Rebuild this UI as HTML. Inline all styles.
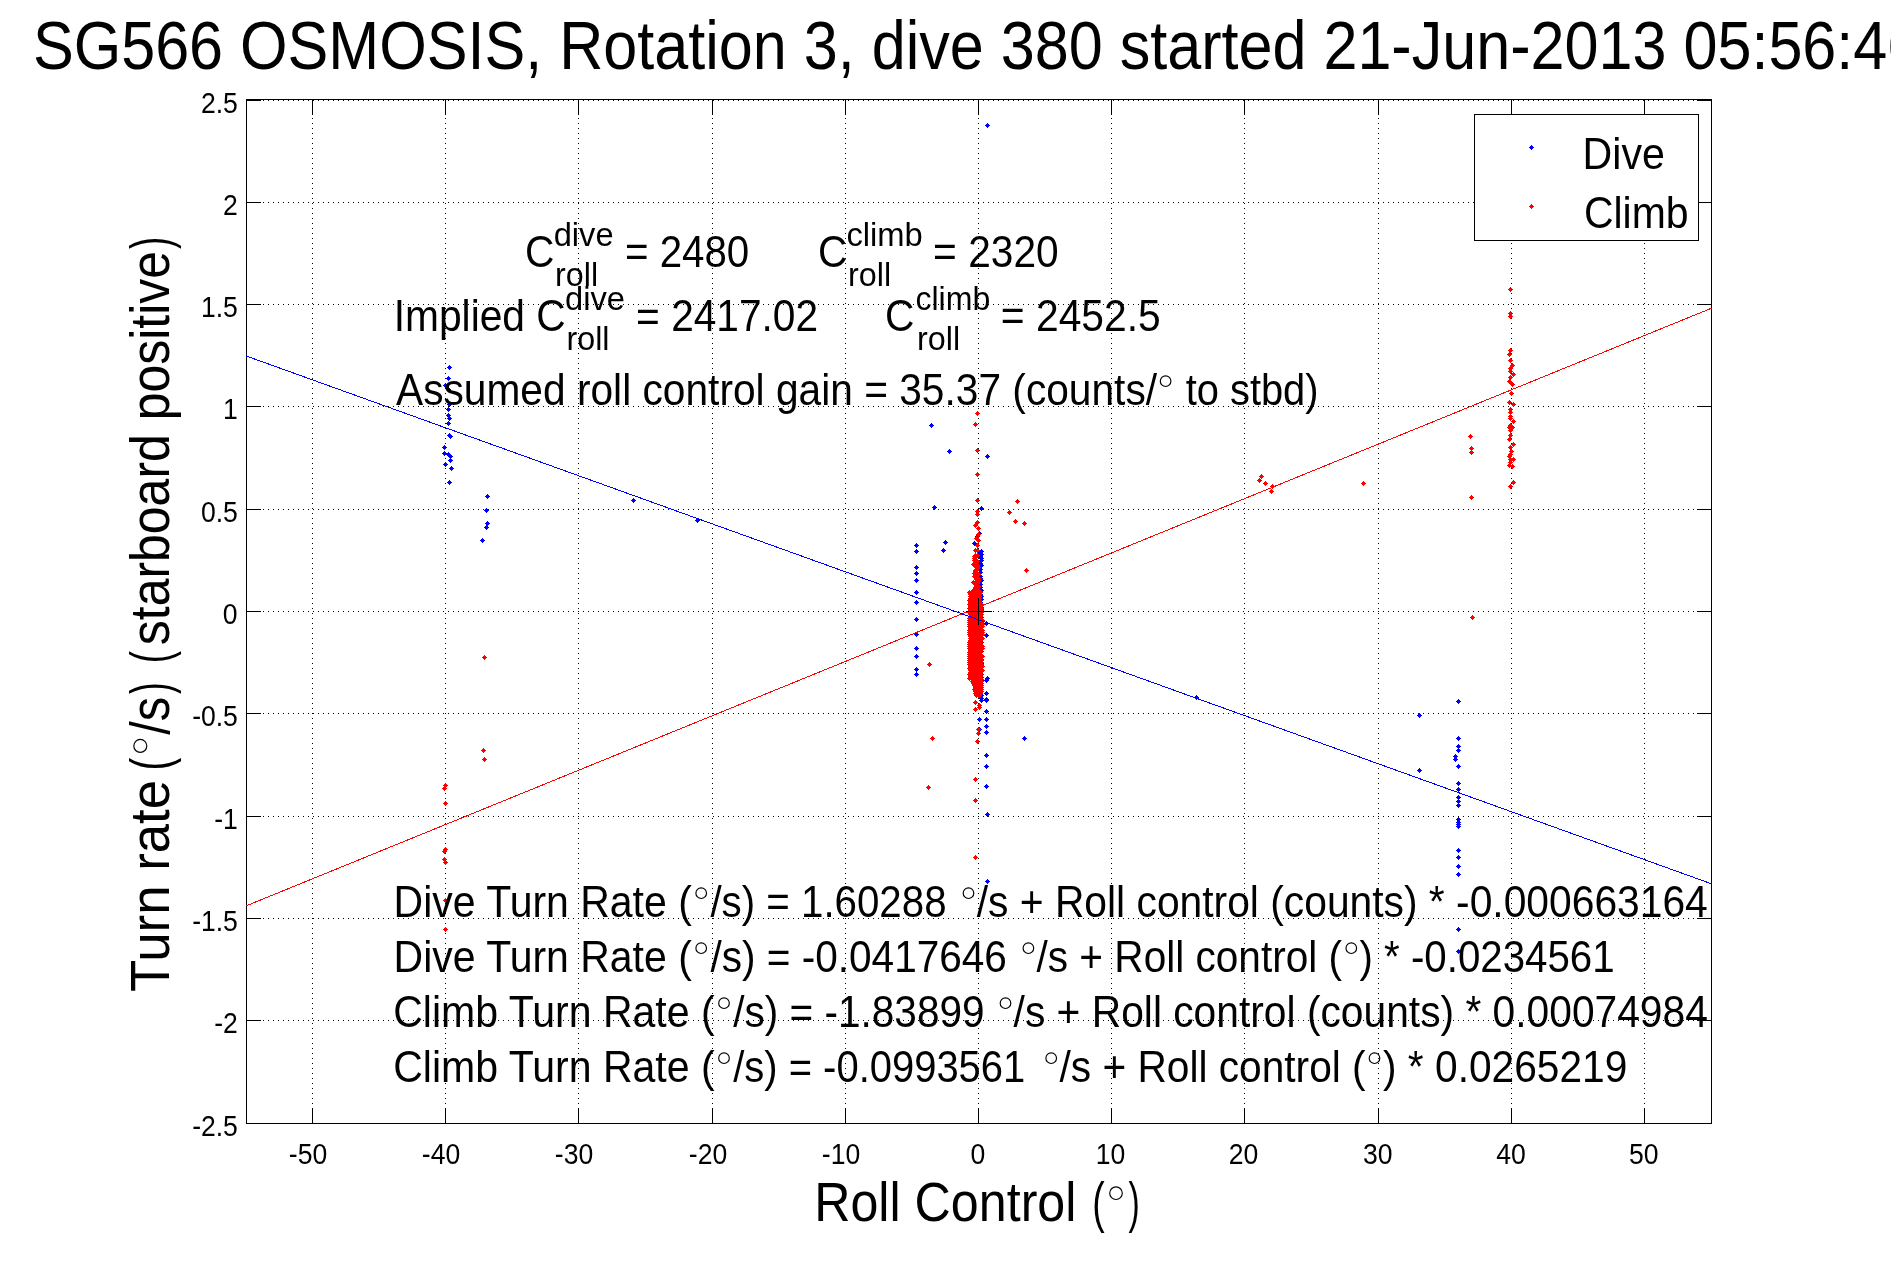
<!DOCTYPE html>
<html><head><meta charset="utf-8"><title>plot</title>
<style>
html,body{margin:0;padding:0;background:#fff;overflow:hidden}
svg{display:block}
text{font-family:"Liberation Sans",sans-serif;fill:#000;white-space:pre}
</style></head><body>
<svg width="1891" height="1262" viewBox="0 0 1891 1262">
<rect width="1891" height="1262" fill="#fff"/>
<g stroke="#000" stroke-width="1" stroke-dasharray="1 4" shape-rendering="crispEdges">
<line x1="312.5" y1="103" x2="312.5" y2="1123"/>
<line x1="445.5" y1="103" x2="445.5" y2="1123"/>
<line x1="578.5" y1="103" x2="578.5" y2="1123"/>
<line x1="712.5" y1="103" x2="712.5" y2="1123"/>
<line x1="845.5" y1="103" x2="845.5" y2="1123"/>
<line x1="978.5" y1="103" x2="978.5" y2="1123"/>
<line x1="1111.5" y1="103" x2="1111.5" y2="1123"/>
<line x1="1244.5" y1="103" x2="1244.5" y2="1123"/>
<line x1="1378.5" y1="103" x2="1378.5" y2="1123"/>
<line x1="1511.5" y1="103" x2="1511.5" y2="1123"/>
<line x1="1644.5" y1="103" x2="1644.5" y2="1123"/>
<line x1="248" y1="100.5" x2="1711" y2="100.5"/>
<line x1="248" y1="202.5" x2="1711" y2="202.5"/>
<line x1="248" y1="304.5" x2="1711" y2="304.5"/>
<line x1="248" y1="406.5" x2="1711" y2="406.5"/>
<line x1="248" y1="509.5" x2="1711" y2="509.5"/>
<line x1="248" y1="611.5" x2="1711" y2="611.5"/>
<line x1="248" y1="713.5" x2="1711" y2="713.5"/>
<line x1="248" y1="816.5" x2="1711" y2="816.5"/>
<line x1="248" y1="918.5" x2="1711" y2="918.5"/>
<line x1="248" y1="1020.5" x2="1711" y2="1020.5"/>
<line x1="248" y1="1123.5" x2="1711" y2="1123.5"/>
</g>
<g stroke="#000" stroke-width="1" fill="none" shape-rendering="crispEdges">
<path d="M246.5 99.5H1711.5V1123.5H246.5Z"/>
<path d="M312.5 1123V1108M312.5 100V115M445.5 1123V1108M445.5 100V115M578.5 1123V1108M578.5 100V115M712.5 1123V1108M712.5 100V115M845.5 1123V1108M845.5 100V115M978.5 1123V1108M978.5 100V115M1111.5 1123V1108M1111.5 100V115M1244.5 1123V1108M1244.5 100V115M1378.5 1123V1108M1378.5 100V115M1511.5 1123V1108M1511.5 100V115M1644.5 1123V1108M1644.5 100V115M246 100.5H261M1712 100.5H1697M246 202.5H261M1712 202.5H1697M246 304.5H261M1712 304.5H1697M246 406.5H261M1712 406.5H1697M246 509.5H261M1712 509.5H1697M246 611.5H261M1712 611.5H1697M246 713.5H261M1712 713.5H1697M246 816.5H261M1712 816.5H1697M246 918.5H261M1712 918.5H1697M246 1020.5H261M1712 1020.5H1697M246 1123.5H261M1712 1123.5H1697"/>
</g>
<g shape-rendering="crispEdges">
<path fill="#00f" d="M449 365h1v1h1v1h1v1h-1v1h-1v1h-1v-1h-1v-1h-1v-1h1v-1h1zM448 376h1v1h1v1h1v1h-1v1h-1v1h-1v-1h-1v-1h-1v-1h1v-1h1zM448 387h1v1h1v1h1v1h-1v1h-1v1h-1v-1h-1v-1h-1v-1h1v-1h1zM445 383h1v1h1v1h1v1h-1v1h-1v1h-1v-1h-1v-1h-1v-1h1v-1h1zM449 402h1v1h1v1h1v1h-1v1h-1v1h-1v-1h-1v-1h-1v-1h1v-1h1zM448 407h1v1h1v1h1v1h-1v1h-1v1h-1v-1h-1v-1h-1v-1h1v-1h1zM448 413h1v1h1v1h1v1h-1v1h-1v1h-1v-1h-1v-1h-1v-1h1v-1h1zM449 416h1v1h1v1h1v1h-1v1h-1v1h-1v-1h-1v-1h-1v-1h1v-1h1zM448 421h1v1h1v1h1v1h-1v1h-1v1h-1v-1h-1v-1h-1v-1h1v-1h1zM449 433h1v1h1v1h1v1h-1v1h-1v1h-1v-1h-1v-1h-1v-1h1v-1h1zM450 434h1v1h1v1h1v1h-1v1h-1v1h-1v-1h-1v-1h-1v-1h1v-1h1zM444 445h1v1h1v1h1v1h-1v1h-1v1h-1v-1h-1v-1h-1v-1h1v-1h1zM444 451h1v1h1v1h1v1h-1v1h-1v1h-1v-1h-1v-1h-1v-1h1v-1h1zM448 452h1v1h1v1h1v1h-1v1h-1v1h-1v-1h-1v-1h-1v-1h1v-1h1zM450 454h1v1h1v1h1v1h-1v1h-1v1h-1v-1h-1v-1h-1v-1h1v-1h1zM450 458h1v1h1v1h1v1h-1v1h-1v1h-1v-1h-1v-1h-1v-1h1v-1h1zM445 462h1v1h1v1h1v1h-1v1h-1v1h-1v-1h-1v-1h-1v-1h1v-1h1zM451 466h1v1h1v1h1v1h-1v1h-1v1h-1v-1h-1v-1h-1v-1h1v-1h1zM449 480h1v1h1v1h1v1h-1v1h-1v1h-1v-1h-1v-1h-1v-1h1v-1h1zM487 494h1v1h1v1h1v1h-1v1h-1v1h-1v-1h-1v-1h-1v-1h1v-1h1zM486 508h1v1h1v1h1v1h-1v1h-1v1h-1v-1h-1v-1h-1v-1h1v-1h1zM487 521h1v1h1v1h1v1h-1v1h-1v1h-1v-1h-1v-1h-1v-1h1v-1h1zM486 525h1v1h1v1h1v1h-1v1h-1v1h-1v-1h-1v-1h-1v-1h1v-1h1zM482 538h1v1h1v1h1v1h-1v1h-1v1h-1v-1h-1v-1h-1v-1h1v-1h1zM633 498h1v1h1v1h1v1h-1v1h-1v1h-1v-1h-1v-1h-1v-1h1v-1h1zM697 518h1v1h1v1h1v1h-1v1h-1v1h-1v-1h-1v-1h-1v-1h1v-1h1zM987 123h1v1h1v1h1v1h-1v1h-1v1h-1v-1h-1v-1h-1v-1h1v-1h1zM931 423h1v1h1v1h1v1h-1v1h-1v1h-1v-1h-1v-1h-1v-1h1v-1h1zM949 449h1v1h1v1h1v1h-1v1h-1v1h-1v-1h-1v-1h-1v-1h1v-1h1zM987 454h1v1h1v1h1v1h-1v1h-1v1h-1v-1h-1v-1h-1v-1h1v-1h1zM934 505h1v1h1v1h1v1h-1v1h-1v1h-1v-1h-1v-1h-1v-1h1v-1h1zM981 506h1v1h1v1h1v1h-1v1h-1v1h-1v-1h-1v-1h-1v-1h1v-1h1zM945 540h1v1h1v1h1v1h-1v1h-1v1h-1v-1h-1v-1h-1v-1h1v-1h1zM916 543h1v1h1v1h1v1h-1v1h-1v1h-1v-1h-1v-1h-1v-1h1v-1h1zM916 549h1v1h1v1h1v1h-1v1h-1v1h-1v-1h-1v-1h-1v-1h1v-1h1zM943 548h1v1h1v1h1v1h-1v1h-1v1h-1v-1h-1v-1h-1v-1h1v-1h1zM974 541h1v1h1v1h1v1h-1v1h-1v1h-1v-1h-1v-1h-1v-1h1v-1h1zM979 531h1v1h1v1h1v1h-1v1h-1v1h-1v-1h-1v-1h-1v-1h1v-1h1zM977 534h1v1h1v1h1v1h-1v1h-1v1h-1v-1h-1v-1h-1v-1h1v-1h1zM979 550h1v1h1v1h1v1h-1v1h-1v1h-1v-1h-1v-1h-1v-1h1v-1h1zM980 555h1v1h1v1h1v1h-1v1h-1v1h-1v-1h-1v-1h-1v-1h1v-1h1zM916 543h1v1h1v1h1v1h-1v1h-1v1h-1v-1h-1v-1h-1v-1h1v-1h1zM916 549h1v1h1v1h1v1h-1v1h-1v1h-1v-1h-1v-1h-1v-1h1v-1h1zM916 565h1v1h1v1h1v1h-1v1h-1v1h-1v-1h-1v-1h-1v-1h1v-1h1zM916 571h1v1h1v1h1v1h-1v1h-1v1h-1v-1h-1v-1h-1v-1h1v-1h1zM916 578h1v1h1v1h1v1h-1v1h-1v1h-1v-1h-1v-1h-1v-1h1v-1h1zM916 590h1v1h1v1h1v1h-1v1h-1v1h-1v-1h-1v-1h-1v-1h1v-1h1zM916 600h1v1h1v1h1v1h-1v1h-1v1h-1v-1h-1v-1h-1v-1h1v-1h1zM916 617h1v1h1v1h1v1h-1v1h-1v1h-1v-1h-1v-1h-1v-1h1v-1h1zM916 632h1v1h1v1h1v1h-1v1h-1v1h-1v-1h-1v-1h-1v-1h1v-1h1zM916 646h1v1h1v1h1v1h-1v1h-1v1h-1v-1h-1v-1h-1v-1h1v-1h1zM916 654h1v1h1v1h1v1h-1v1h-1v1h-1v-1h-1v-1h-1v-1h1v-1h1zM916 667h1v1h1v1h1v1h-1v1h-1v1h-1v-1h-1v-1h-1v-1h1v-1h1zM916 672h1v1h1v1h1v1h-1v1h-1v1h-1v-1h-1v-1h-1v-1h1v-1h1zM945 540h1v1h1v1h1v1h-1v1h-1v1h-1v-1h-1v-1h-1v-1h1v-1h1zM943 548h1v1h1v1h1v1h-1v1h-1v1h-1v-1h-1v-1h-1v-1h1v-1h1zM974 541h1v1h1v1h1v1h-1v1h-1v1h-1v-1h-1v-1h-1v-1h1v-1h1zM986 621h1v1h1v1h1v1h-1v1h-1v1h-1v-1h-1v-1h-1v-1h1v-1h1zM986 633h1v1h1v1h1v1h-1v1h-1v1h-1v-1h-1v-1h-1v-1h1v-1h1zM987 676h1v1h1v1h1v1h-1v1h-1v1h-1v-1h-1v-1h-1v-1h1v-1h1zM986 678h1v1h1v1h1v1h-1v1h-1v1h-1v-1h-1v-1h-1v-1h1v-1h1zM986 691h1v1h1v1h1v1h-1v1h-1v1h-1v-1h-1v-1h-1v-1h1v-1h1zM981 693h1v1h1v1h1v1h-1v1h-1v1h-1v-1h-1v-1h-1v-1h1v-1h1zM986 697h1v1h1v1h1v1h-1v1h-1v1h-1v-1h-1v-1h-1v-1h1v-1h1zM981 696h1v1h1v1h1v1h-1v1h-1v1h-1v-1h-1v-1h-1v-1h1v-1h1zM986 691h1v1h1v1h1v1h-1v1h-1v1h-1v-1h-1v-1h-1v-1h1v-1h1zM981 693h1v1h1v1h1v1h-1v1h-1v1h-1v-1h-1v-1h-1v-1h1v-1h1zM981 698h1v1h1v1h1v1h-1v1h-1v1h-1v-1h-1v-1h-1v-1h1v-1h1zM986 698h1v1h1v1h1v1h-1v1h-1v1h-1v-1h-1v-1h-1v-1h1v-1h1zM986 709h1v1h1v1h1v1h-1v1h-1v1h-1v-1h-1v-1h-1v-1h1v-1h1zM979 717h1v1h1v1h1v1h-1v1h-1v1h-1v-1h-1v-1h-1v-1h1v-1h1zM986 717h1v1h1v1h1v1h-1v1h-1v1h-1v-1h-1v-1h-1v-1h1v-1h1zM986 724h1v1h1v1h1v1h-1v1h-1v1h-1v-1h-1v-1h-1v-1h1v-1h1zM979 727h1v1h1v1h1v1h-1v1h-1v1h-1v-1h-1v-1h-1v-1h1v-1h1zM986 730h1v1h1v1h1v1h-1v1h-1v1h-1v-1h-1v-1h-1v-1h1v-1h1zM1024 736h1v1h1v1h1v1h-1v1h-1v1h-1v-1h-1v-1h-1v-1h1v-1h1zM986 753h1v1h1v1h1v1h-1v1h-1v1h-1v-1h-1v-1h-1v-1h1v-1h1zM986 764h1v1h1v1h1v1h-1v1h-1v1h-1v-1h-1v-1h-1v-1h1v-1h1zM986 784h1v1h1v1h1v1h-1v1h-1v1h-1v-1h-1v-1h-1v-1h1v-1h1zM987 812h1v1h1v1h1v1h-1v1h-1v1h-1v-1h-1v-1h-1v-1h1v-1h1zM987 879h1v1h1v1h1v1h-1v1h-1v1h-1v-1h-1v-1h-1v-1h1v-1h1zM1196 695h1v1h1v1h1v1h-1v1h-1v1h-1v-1h-1v-1h-1v-1h1v-1h1zM1458 699h1v1h1v1h1v1h-1v1h-1v1h-1v-1h-1v-1h-1v-1h1v-1h1zM1419 713h1v1h1v1h1v1h-1v1h-1v1h-1v-1h-1v-1h-1v-1h1v-1h1zM1419 768h1v1h1v1h1v1h-1v1h-1v1h-1v-1h-1v-1h-1v-1h1v-1h1zM1458 736h1v1h1v1h1v1h-1v1h-1v1h-1v-1h-1v-1h-1v-1h1v-1h1zM1458 744h1v1h1v1h1v1h-1v1h-1v1h-1v-1h-1v-1h-1v-1h1v-1h1zM1458 748h1v1h1v1h1v1h-1v1h-1v1h-1v-1h-1v-1h-1v-1h1v-1h1zM1455 754h1v1h1v1h1v1h-1v1h-1v1h-1v-1h-1v-1h-1v-1h1v-1h1zM1455 757h1v1h1v1h1v1h-1v1h-1v1h-1v-1h-1v-1h-1v-1h1v-1h1zM1458 764h1v1h1v1h1v1h-1v1h-1v1h-1v-1h-1v-1h-1v-1h1v-1h1zM1458 781h1v1h1v1h1v1h-1v1h-1v1h-1v-1h-1v-1h-1v-1h1v-1h1zM1458 787h1v1h1v1h1v1h-1v1h-1v1h-1v-1h-1v-1h-1v-1h1v-1h1zM1458 795h1v1h1v1h1v1h-1v1h-1v1h-1v-1h-1v-1h-1v-1h1v-1h1zM1458 799h1v1h1v1h1v1h-1v1h-1v1h-1v-1h-1v-1h-1v-1h1v-1h1zM1458 803h1v1h1v1h1v1h-1v1h-1v1h-1v-1h-1v-1h-1v-1h1v-1h1zM1458 817h1v1h1v1h1v1h-1v1h-1v1h-1v-1h-1v-1h-1v-1h1v-1h1zM1458 820h1v1h1v1h1v1h-1v1h-1v1h-1v-1h-1v-1h-1v-1h1v-1h1zM1458 822h1v1h1v1h1v1h-1v1h-1v1h-1v-1h-1v-1h-1v-1h1v-1h1zM1458 824h1v1h1v1h1v1h-1v1h-1v1h-1v-1h-1v-1h-1v-1h1v-1h1zM1458 848h1v1h1v1h1v1h-1v1h-1v1h-1v-1h-1v-1h-1v-1h1v-1h1zM1458 855h1v1h1v1h1v1h-1v1h-1v1h-1v-1h-1v-1h-1v-1h1v-1h1zM1458 864h1v1h1v1h1v1h-1v1h-1v1h-1v-1h-1v-1h-1v-1h1v-1h1zM1458 872h1v1h1v1h1v1h-1v1h-1v1h-1v-1h-1v-1h-1v-1h1v-1h1zM1458 927h1v1h1v1h1v1h-1v1h-1v1h-1v-1h-1v-1h-1v-1h1v-1h1zM1458 949h1v1h1v1h1v1h-1v1h-1v1h-1v-1h-1v-1h-1v-1h1v-1h1zM981 549h1v1h1v1h1v1h-1v1h-1v1h-1v-1h-1v-1h-1v-1h1v-1h1zM981 552h1v1h1v1h1v1h-1v1h-1v1h-1v-1h-1v-1h-1v-1h1v-1h1zM980 554h1v1h1v1h1v1h-1v1h-1v1h-1v-1h-1v-1h-1v-1h1v-1h1zM981 556h1v1h1v1h1v1h-1v1h-1v1h-1v-1h-1v-1h-1v-1h1v-1h1zM981 558h1v1h1v1h1v1h-1v1h-1v1h-1v-1h-1v-1h-1v-1h1v-1h1zM980 561h1v1h1v1h1v1h-1v1h-1v1h-1v-1h-1v-1h-1v-1h1v-1h1zM981 563h1v1h1v1h1v1h-1v1h-1v1h-1v-1h-1v-1h-1v-1h1v-1h1zM980 567h1v1h1v1h1v1h-1v1h-1v1h-1v-1h-1v-1h-1v-1h1v-1h1zM980 570h1v1h1v1h1v1h-1v1h-1v1h-1v-1h-1v-1h-1v-1h1v-1h1zM980 574h1v1h1v1h1v1h-1v1h-1v1h-1v-1h-1v-1h-1v-1h1v-1h1zM980 576h1v1h1v1h1v1h-1v1h-1v1h-1v-1h-1v-1h-1v-1h1v-1h1zM981 578h1v1h1v1h1v1h-1v1h-1v1h-1v-1h-1v-1h-1v-1h1v-1h1zM980 582h1v1h1v1h1v1h-1v1h-1v1h-1v-1h-1v-1h-1v-1h1v-1h1zM980 585h1v1h1v1h1v1h-1v1h-1v1h-1v-1h-1v-1h-1v-1h1v-1h1zM981 588h1v1h1v1h1v1h-1v1h-1v1h-1v-1h-1v-1h-1v-1h1v-1h1zM980 592h1v1h1v1h1v1h-1v1h-1v1h-1v-1h-1v-1h-1v-1h1v-1h1zM981 594h1v1h1v1h1v1h-1v1h-1v1h-1v-1h-1v-1h-1v-1h1v-1h1zM981 597h1v1h1v1h1v1h-1v1h-1v1h-1v-1h-1v-1h-1v-1h1v-1h1zM980 600h1v1h1v1h1v1h-1v1h-1v1h-1v-1h-1v-1h-1v-1h1v-1h1zM981 603h1v1h1v1h1v1h-1v1h-1v1h-1v-1h-1v-1h-1v-1h1v-1h1zM981 605h1v1h1v1h1v1h-1v1h-1v1h-1v-1h-1v-1h-1v-1h1v-1h1zM981 602h1v1h1v1h1v1h-1v1h-1v1h-1v-1h-1v-1h-1v-1h1v-1h1zM981 607h1v1h1v1h1v1h-1v1h-1v1h-1v-1h-1v-1h-1v-1h1v-1h1zM981 610h1v1h1v1h1v1h-1v1h-1v1h-1v-1h-1v-1h-1v-1h1v-1h1zM981 615h1v1h1v1h1v1h-1v1h-1v1h-1v-1h-1v-1h-1v-1h1v-1h1zM981 618h1v1h1v1h1v1h-1v1h-1v1h-1v-1h-1v-1h-1v-1h1v-1h1zM981 622h1v1h1v1h1v1h-1v1h-1v1h-1v-1h-1v-1h-1v-1h1v-1h1zM981 627h1v1h1v1h1v1h-1v1h-1v1h-1v-1h-1v-1h-1v-1h1v-1h1zM981 632h1v1h1v1h1v1h-1v1h-1v1h-1v-1h-1v-1h-1v-1h1v-1h1zM981 636h1v1h1v1h1v1h-1v1h-1v1h-1v-1h-1v-1h-1v-1h1v-1h1zM981 640h1v1h1v1h1v1h-1v1h-1v1h-1v-1h-1v-1h-1v-1h1v-1h1zM981 644h1v1h1v1h1v1h-1v1h-1v1h-1v-1h-1v-1h-1v-1h1v-1h1zM981 649h1v1h1v1h1v1h-1v1h-1v1h-1v-1h-1v-1h-1v-1h1v-1h1zM981 653h1v1h1v1h1v1h-1v1h-1v1h-1v-1h-1v-1h-1v-1h1v-1h1zM981 657h1v1h1v1h1v1h-1v1h-1v1h-1v-1h-1v-1h-1v-1h1v-1h1zM981 661h1v1h1v1h1v1h-1v1h-1v1h-1v-1h-1v-1h-1v-1h1v-1h1zM981 664h1v1h1v1h1v1h-1v1h-1v1h-1v-1h-1v-1h-1v-1h1v-1h1zM981 667h1v1h1v1h1v1h-1v1h-1v1h-1v-1h-1v-1h-1v-1h1v-1h1zM981 672h1v1h1v1h1v1h-1v1h-1v1h-1v-1h-1v-1h-1v-1h1v-1h1zM981 675h1v1h1v1h1v1h-1v1h-1v1h-1v-1h-1v-1h-1v-1h1v-1h1zM981 678h1v1h1v1h1v1h-1v1h-1v1h-1v-1h-1v-1h-1v-1h1v-1h1z"/>
<path fill="#f00" d="M484 655h1v1h1v1h1v1h-1v1h-1v1h-1v-1h-1v-1h-1v-1h1v-1h1zM483 748h1v1h1v1h1v1h-1v1h-1v1h-1v-1h-1v-1h-1v-1h1v-1h1zM484 757h1v1h1v1h1v1h-1v1h-1v1h-1v-1h-1v-1h-1v-1h1v-1h1zM445 783h1v1h1v1h1v1h-1v1h-1v1h-1v-1h-1v-1h-1v-1h1v-1h1zM444 786h1v1h1v1h1v1h-1v1h-1v1h-1v-1h-1v-1h-1v-1h1v-1h1zM445 801h1v1h1v1h1v1h-1v1h-1v1h-1v-1h-1v-1h-1v-1h1v-1h1zM445 847h1v1h1v1h1v1h-1v1h-1v1h-1v-1h-1v-1h-1v-1h1v-1h1zM444 849h1v1h1v1h1v1h-1v1h-1v1h-1v-1h-1v-1h-1v-1h1v-1h1zM444 857h1v1h1v1h1v1h-1v1h-1v1h-1v-1h-1v-1h-1v-1h1v-1h1zM445 860h1v1h1v1h1v1h-1v1h-1v1h-1v-1h-1v-1h-1v-1h1v-1h1zM445 898h1v1h1v1h1v1h-1v1h-1v1h-1v-1h-1v-1h-1v-1h1v-1h1zM445 927h1v1h1v1h1v1h-1v1h-1v1h-1v-1h-1v-1h-1v-1h1v-1h1zM977 411h1v1h1v1h1v1h-1v1h-1v1h-1v-1h-1v-1h-1v-1h1v-1h1zM975 422h1v1h1v1h1v1h-1v1h-1v1h-1v-1h-1v-1h-1v-1h1v-1h1zM977 448h1v1h1v1h1v1h-1v1h-1v1h-1v-1h-1v-1h-1v-1h1v-1h1zM977 472h1v1h1v1h1v1h-1v1h-1v1h-1v-1h-1v-1h-1v-1h1v-1h1zM977 498h1v1h1v1h1v1h-1v1h-1v1h-1v-1h-1v-1h-1v-1h1v-1h1zM1017 499h1v1h1v1h1v1h-1v1h-1v1h-1v-1h-1v-1h-1v-1h1v-1h1zM1009 510h1v1h1v1h1v1h-1v1h-1v1h-1v-1h-1v-1h-1v-1h1v-1h1zM1015 519h1v1h1v1h1v1h-1v1h-1v1h-1v-1h-1v-1h-1v-1h1v-1h1zM1024 521h1v1h1v1h1v1h-1v1h-1v1h-1v-1h-1v-1h-1v-1h1v-1h1zM977 509h1v1h1v1h1v1h-1v1h-1v1h-1v-1h-1v-1h-1v-1h1v-1h1zM977 512h1v1h1v1h1v1h-1v1h-1v1h-1v-1h-1v-1h-1v-1h1v-1h1zM977 520h1v1h1v1h1v1h-1v1h-1v1h-1v-1h-1v-1h-1v-1h1v-1h1zM975 523h1v1h1v1h1v1h-1v1h-1v1h-1v-1h-1v-1h-1v-1h1v-1h1zM978 526h1v1h1v1h1v1h-1v1h-1v1h-1v-1h-1v-1h-1v-1h1v-1h1zM978 532h1v1h1v1h1v1h-1v1h-1v1h-1v-1h-1v-1h-1v-1h1v-1h1zM976 536h1v1h1v1h1v1h-1v1h-1v1h-1v-1h-1v-1h-1v-1h1v-1h1zM978 538h1v1h1v1h1v1h-1v1h-1v1h-1v-1h-1v-1h-1v-1h1v-1h1zM977 543h1v1h1v1h1v1h-1v1h-1v1h-1v-1h-1v-1h-1v-1h1v-1h1zM975 548h1v1h1v1h1v1h-1v1h-1v1h-1v-1h-1v-1h-1v-1h1v-1h1zM977 548h1v1h1v1h1v1h-1v1h-1v1h-1v-1h-1v-1h-1v-1h1v-1h1zM977 553h1v1h1v1h1v1h-1v1h-1v1h-1v-1h-1v-1h-1v-1h1v-1h1zM974 554h1v1h1v1h1v1h-1v1h-1v1h-1v-1h-1v-1h-1v-1h1v-1h1zM1026 568h1v1h1v1h1v1h-1v1h-1v1h-1v-1h-1v-1h-1v-1h1v-1h1zM929 662h1v1h1v1h1v1h-1v1h-1v1h-1v-1h-1v-1h-1v-1h1v-1h1zM975 700h1v1h1v1h1v1h-1v1h-1v1h-1v-1h-1v-1h-1v-1h1v-1h1zM979 703h1v1h1v1h1v1h-1v1h-1v1h-1v-1h-1v-1h-1v-1h1v-1h1zM979 705h1v1h1v1h1v1h-1v1h-1v1h-1v-1h-1v-1h-1v-1h1v-1h1zM975 707h1v1h1v1h1v1h-1v1h-1v1h-1v-1h-1v-1h-1v-1h1v-1h1zM978 727h1v1h1v1h1v1h-1v1h-1v1h-1v-1h-1v-1h-1v-1h1v-1h1zM978 731h1v1h1v1h1v1h-1v1h-1v1h-1v-1h-1v-1h-1v-1h1v-1h1zM977 739h1v1h1v1h1v1h-1v1h-1v1h-1v-1h-1v-1h-1v-1h1v-1h1zM932 736h1v1h1v1h1v1h-1v1h-1v1h-1v-1h-1v-1h-1v-1h1v-1h1zM975 777h1v1h1v1h1v1h-1v1h-1v1h-1v-1h-1v-1h-1v-1h1v-1h1zM928 785h1v1h1v1h1v1h-1v1h-1v1h-1v-1h-1v-1h-1v-1h1v-1h1zM975 798h1v1h1v1h1v1h-1v1h-1v1h-1v-1h-1v-1h-1v-1h1v-1h1zM975 855h1v1h1v1h1v1h-1v1h-1v1h-1v-1h-1v-1h-1v-1h1v-1h1zM1510 287h1v1h1v1h1v1h-1v1h-1v1h-1v-1h-1v-1h-1v-1h1v-1h1zM1510 311h1v1h1v1h1v1h-1v1h-1v1h-1v-1h-1v-1h-1v-1h1v-1h1zM1510 314h1v1h1v1h1v1h-1v1h-1v1h-1v-1h-1v-1h-1v-1h1v-1h1zM1510 348h1v1h1v1h1v1h-1v1h-1v1h-1v-1h-1v-1h-1v-1h1v-1h1zM1509 352h1v1h1v1h1v1h-1v1h-1v1h-1v-1h-1v-1h-1v-1h1v-1h1zM1510 358h1v1h1v1h1v1h-1v1h-1v1h-1v-1h-1v-1h-1v-1h1v-1h1zM1512 363h1v1h1v1h1v1h-1v1h-1v1h-1v-1h-1v-1h-1v-1h1v-1h1zM1510 366h1v1h1v1h1v1h-1v1h-1v1h-1v-1h-1v-1h-1v-1h1v-1h1zM1510 369h1v1h1v1h1v1h-1v1h-1v1h-1v-1h-1v-1h-1v-1h1v-1h1zM1513 372h1v1h1v1h1v1h-1v1h-1v1h-1v-1h-1v-1h-1v-1h1v-1h1zM1510 375h1v1h1v1h1v1h-1v1h-1v1h-1v-1h-1v-1h-1v-1h1v-1h1zM1509 379h1v1h1v1h1v1h-1v1h-1v1h-1v-1h-1v-1h-1v-1h1v-1h1zM1510 380h1v1h1v1h1v1h-1v1h-1v1h-1v-1h-1v-1h-1v-1h1v-1h1zM1512 382h1v1h1v1h1v1h-1v1h-1v1h-1v-1h-1v-1h-1v-1h1v-1h1zM1511 391h1v1h1v1h1v1h-1v1h-1v1h-1v-1h-1v-1h-1v-1h1v-1h1zM1509 400h1v1h1v1h1v1h-1v1h-1v1h-1v-1h-1v-1h-1v-1h1v-1h1zM1513 402h1v1h1v1h1v1h-1v1h-1v1h-1v-1h-1v-1h-1v-1h1v-1h1zM1510 407h1v1h1v1h1v1h-1v1h-1v1h-1v-1h-1v-1h-1v-1h1v-1h1zM1510 410h1v1h1v1h1v1h-1v1h-1v1h-1v-1h-1v-1h-1v-1h1v-1h1zM1510 414h1v1h1v1h1v1h-1v1h-1v1h-1v-1h-1v-1h-1v-1h1v-1h1zM1510 416h1v1h1v1h1v1h-1v1h-1v1h-1v-1h-1v-1h-1v-1h1v-1h1zM1513 419h1v1h1v1h1v1h-1v1h-1v1h-1v-1h-1v-1h-1v-1h1v-1h1zM1510 423h1v1h1v1h1v1h-1v1h-1v1h-1v-1h-1v-1h-1v-1h1v-1h1zM1509 425h1v1h1v1h1v1h-1v1h-1v1h-1v-1h-1v-1h-1v-1h1v-1h1zM1512 425h1v1h1v1h1v1h-1v1h-1v1h-1v-1h-1v-1h-1v-1h1v-1h1zM1510 428h1v1h1v1h1v1h-1v1h-1v1h-1v-1h-1v-1h-1v-1h1v-1h1zM1510 433h1v1h1v1h1v1h-1v1h-1v1h-1v-1h-1v-1h-1v-1h1v-1h1zM1509 437h1v1h1v1h1v1h-1v1h-1v1h-1v-1h-1v-1h-1v-1h1v-1h1zM1513 442h1v1h1v1h1v1h-1v1h-1v1h-1v-1h-1v-1h-1v-1h1v-1h1zM1510 445h1v1h1v1h1v1h-1v1h-1v1h-1v-1h-1v-1h-1v-1h1v-1h1zM1511 449h1v1h1v1h1v1h-1v1h-1v1h-1v-1h-1v-1h-1v-1h1v-1h1zM1510 452h1v1h1v1h1v1h-1v1h-1v1h-1v-1h-1v-1h-1v-1h1v-1h1zM1509 454h1v1h1v1h1v1h-1v1h-1v1h-1v-1h-1v-1h-1v-1h1v-1h1zM1510 457h1v1h1v1h1v1h-1v1h-1v1h-1v-1h-1v-1h-1v-1h1v-1h1zM1513 457h1v1h1v1h1v1h-1v1h-1v1h-1v-1h-1v-1h-1v-1h1v-1h1zM1510 460h1v1h1v1h1v1h-1v1h-1v1h-1v-1h-1v-1h-1v-1h1v-1h1zM1509 463h1v1h1v1h1v1h-1v1h-1v1h-1v-1h-1v-1h-1v-1h1v-1h1zM1512 464h1v1h1v1h1v1h-1v1h-1v1h-1v-1h-1v-1h-1v-1h1v-1h1zM1513 480h1v1h1v1h1v1h-1v1h-1v1h-1v-1h-1v-1h-1v-1h1v-1h1zM1510 484h1v1h1v1h1v1h-1v1h-1v1h-1v-1h-1v-1h-1v-1h1v-1h1zM1470 434h1v1h1v1h1v1h-1v1h-1v1h-1v-1h-1v-1h-1v-1h1v-1h1zM1471 446h1v1h1v1h1v1h-1v1h-1v1h-1v-1h-1v-1h-1v-1h1v-1h1zM1471 450h1v1h1v1h1v1h-1v1h-1v1h-1v-1h-1v-1h-1v-1h1v-1h1zM1471 495h1v1h1v1h1v1h-1v1h-1v1h-1v-1h-1v-1h-1v-1h1v-1h1zM1472 615h1v1h1v1h1v1h-1v1h-1v1h-1v-1h-1v-1h-1v-1h1v-1h1zM1261 474h1v1h1v1h1v1h-1v1h-1v1h-1v-1h-1v-1h-1v-1h1v-1h1zM1259 478h1v1h1v1h1v1h-1v1h-1v1h-1v-1h-1v-1h-1v-1h1v-1h1zM1265 481h1v1h1v1h1v1h-1v1h-1v1h-1v-1h-1v-1h-1v-1h1v-1h1zM1272 484h1v1h1v1h1v1h-1v1h-1v1h-1v-1h-1v-1h-1v-1h1v-1h1zM1271 489h1v1h1v1h1v1h-1v1h-1v1h-1v-1h-1v-1h-1v-1h1v-1h1zM1363 481h1v1h1v1h1v1h-1v1h-1v1h-1v-1h-1v-1h-1v-1h1v-1h1zM975 553h1v1h1v1h1v1h-1v1h-1v1h-1v-1h-1v-1h-1v-1h1v-1h1zM975 553h1v1h1v1h1v1h-1v1h-1v1h-1v-1h-1v-1h-1v-1h1v-1h1zM974 556h1v1h1v1h1v1h-1v1h-1v1h-1v-1h-1v-1h-1v-1h1v-1h1zM975 555h1v1h1v1h1v1h-1v1h-1v1h-1v-1h-1v-1h-1v-1h1v-1h1zM976 558h1v1h1v1h1v1h-1v1h-1v1h-1v-1h-1v-1h-1v-1h1v-1h1zM974 558h1v1h1v1h1v1h-1v1h-1v1h-1v-1h-1v-1h-1v-1h1v-1h1zM977 559h1v1h1v1h1v1h-1v1h-1v1h-1v-1h-1v-1h-1v-1h1v-1h1zM976 559h1v1h1v1h1v1h-1v1h-1v1h-1v-1h-1v-1h-1v-1h1v-1h1zM974 561h1v1h1v1h1v1h-1v1h-1v1h-1v-1h-1v-1h-1v-1h1v-1h1zM975 562h1v1h1v1h1v1h-1v1h-1v1h-1v-1h-1v-1h-1v-1h1v-1h1zM973 562h1v1h1v1h1v1h-1v1h-1v1h-1v-1h-1v-1h-1v-1h1v-1h1zM975 564h1v1h1v1h1v1h-1v1h-1v1h-1v-1h-1v-1h-1v-1h1v-1h1zM977 563h1v1h1v1h1v1h-1v1h-1v1h-1v-1h-1v-1h-1v-1h1v-1h1zM978 565h1v1h1v1h1v1h-1v1h-1v1h-1v-1h-1v-1h-1v-1h1v-1h1zM978 565h1v1h1v1h1v1h-1v1h-1v1h-1v-1h-1v-1h-1v-1h1v-1h1zM976 567h1v1h1v1h1v1h-1v1h-1v1h-1v-1h-1v-1h-1v-1h1v-1h1zM975 568h1v1h1v1h1v1h-1v1h-1v1h-1v-1h-1v-1h-1v-1h1v-1h1zM976 568h1v1h1v1h1v1h-1v1h-1v1h-1v-1h-1v-1h-1v-1h1v-1h1zM975 569h1v1h1v1h1v1h-1v1h-1v1h-1v-1h-1v-1h-1v-1h1v-1h1zM975 569h1v1h1v1h1v1h-1v1h-1v1h-1v-1h-1v-1h-1v-1h1v-1h1zM976 570h1v1h1v1h1v1h-1v1h-1v1h-1v-1h-1v-1h-1v-1h1v-1h1zM978 572h1v1h1v1h1v1h-1v1h-1v1h-1v-1h-1v-1h-1v-1h1v-1h1zM976 571h1v1h1v1h1v1h-1v1h-1v1h-1v-1h-1v-1h-1v-1h1v-1h1zM974 571h1v1h1v1h1v1h-1v1h-1v1h-1v-1h-1v-1h-1v-1h1v-1h1zM974 574h1v1h1v1h1v1h-1v1h-1v1h-1v-1h-1v-1h-1v-1h1v-1h1zM975 573h1v1h1v1h1v1h-1v1h-1v1h-1v-1h-1v-1h-1v-1h1v-1h1zM975 574h1v1h1v1h1v1h-1v1h-1v1h-1v-1h-1v-1h-1v-1h1v-1h1zM975 575h1v1h1v1h1v1h-1v1h-1v1h-1v-1h-1v-1h-1v-1h1v-1h1zM978 576h1v1h1v1h1v1h-1v1h-1v1h-1v-1h-1v-1h-1v-1h1v-1h1zM977 576h1v1h1v1h1v1h-1v1h-1v1h-1v-1h-1v-1h-1v-1h1v-1h1zM978 578h1v1h1v1h1v1h-1v1h-1v1h-1v-1h-1v-1h-1v-1h1v-1h1zM977 578h1v1h1v1h1v1h-1v1h-1v1h-1v-1h-1v-1h-1v-1h1v-1h1zM976 577h1v1h1v1h1v1h-1v1h-1v1h-1v-1h-1v-1h-1v-1h1v-1h1zM976 579h1v1h1v1h1v1h-1v1h-1v1h-1v-1h-1v-1h-1v-1h1v-1h1zM978 579h1v1h1v1h1v1h-1v1h-1v1h-1v-1h-1v-1h-1v-1h1v-1h1zM975 580h1v1h1v1h1v1h-1v1h-1v1h-1v-1h-1v-1h-1v-1h1v-1h1zM973 580h1v1h1v1h1v1h-1v1h-1v1h-1v-1h-1v-1h-1v-1h1v-1h1zM976 582h1v1h1v1h1v1h-1v1h-1v1h-1v-1h-1v-1h-1v-1h1v-1h1zM977 581h1v1h1v1h1v1h-1v1h-1v1h-1v-1h-1v-1h-1v-1h1v-1h1zM975 581h1v1h1v1h1v1h-1v1h-1v1h-1v-1h-1v-1h-1v-1h1v-1h1zM978 584h1v1h1v1h1v1h-1v1h-1v1h-1v-1h-1v-1h-1v-1h1v-1h1zM976 583h1v1h1v1h1v1h-1v1h-1v1h-1v-1h-1v-1h-1v-1h1v-1h1zM976 584h1v1h1v1h1v1h-1v1h-1v1h-1v-1h-1v-1h-1v-1h1v-1h1zM975 585h1v1h1v1h1v1h-1v1h-1v1h-1v-1h-1v-1h-1v-1h1v-1h1zM977 586h1v1h1v1h1v1h-1v1h-1v1h-1v-1h-1v-1h-1v-1h1v-1h1zM976 586h1v1h1v1h1v1h-1v1h-1v1h-1v-1h-1v-1h-1v-1h1v-1h1zM975 588h1v1h1v1h1v1h-1v1h-1v1h-1v-1h-1v-1h-1v-1h1v-1h1zM976 588h1v1h1v1h1v1h-1v1h-1v1h-1v-1h-1v-1h-1v-1h1v-1h1zM978 588h1v1h1v1h1v1h-1v1h-1v1h-1v-1h-1v-1h-1v-1h1v-1h1zM973 588h1v1h1v1h1v1h-1v1h-1v1h-1v-1h-1v-1h-1v-1h1v-1h1zM969 590h1v1h1v1h1v1h-1v1h-1v1h-1v-1h-1v-1h-1v-1h1v-1h1zM971 590h1v1h1v1h1v1h-1v1h-1v1h-1v-1h-1v-1h-1v-1h1v-1h1zM973 590h1v1h1v1h1v1h-1v1h-1v1h-1v-1h-1v-1h-1v-1h1v-1h1zM975 590h1v1h1v1h1v1h-1v1h-1v1h-1v-1h-1v-1h-1v-1h1v-1h1zM977 590h1v1h1v1h1v1h-1v1h-1v1h-1v-1h-1v-1h-1v-1h1v-1h1zM979 590h1v1h1v1h1v1h-1v1h-1v1h-1v-1h-1v-1h-1v-1h1v-1h1zM980 590h1v1h1v1h1v1h-1v1h-1v1h-1v-1h-1v-1h-1v-1h1v-1h1zM970 592h1v1h1v1h1v1h-1v1h-1v1h-1v-1h-1v-1h-1v-1h1v-1h1zM972 592h1v1h1v1h1v1h-1v1h-1v1h-1v-1h-1v-1h-1v-1h1v-1h1zM974 592h1v1h1v1h1v1h-1v1h-1v1h-1v-1h-1v-1h-1v-1h1v-1h1zM976 592h1v1h1v1h1v1h-1v1h-1v1h-1v-1h-1v-1h-1v-1h1v-1h1zM978 592h1v1h1v1h1v1h-1v1h-1v1h-1v-1h-1v-1h-1v-1h1v-1h1zM979 592h1v1h1v1h1v1h-1v1h-1v1h-1v-1h-1v-1h-1v-1h1v-1h1zM970 594h1v1h1v1h1v1h-1v1h-1v1h-1v-1h-1v-1h-1v-1h1v-1h1zM972 594h1v1h1v1h1v1h-1v1h-1v1h-1v-1h-1v-1h-1v-1h1v-1h1zM974 594h1v1h1v1h1v1h-1v1h-1v1h-1v-1h-1v-1h-1v-1h1v-1h1zM976 594h1v1h1v1h1v1h-1v1h-1v1h-1v-1h-1v-1h-1v-1h1v-1h1zM978 594h1v1h1v1h1v1h-1v1h-1v1h-1v-1h-1v-1h-1v-1h1v-1h1zM979 594h1v1h1v1h1v1h-1v1h-1v1h-1v-1h-1v-1h-1v-1h1v-1h1zM970 596h1v1h1v1h1v1h-1v1h-1v1h-1v-1h-1v-1h-1v-1h1v-1h1zM972 596h1v1h1v1h1v1h-1v1h-1v1h-1v-1h-1v-1h-1v-1h1v-1h1zM974 596h1v1h1v1h1v1h-1v1h-1v1h-1v-1h-1v-1h-1v-1h1v-1h1zM976 596h1v1h1v1h1v1h-1v1h-1v1h-1v-1h-1v-1h-1v-1h1v-1h1zM978 596h1v1h1v1h1v1h-1v1h-1v1h-1v-1h-1v-1h-1v-1h1v-1h1zM979 596h1v1h1v1h1v1h-1v1h-1v1h-1v-1h-1v-1h-1v-1h1v-1h1zM969 598h1v1h1v1h1v1h-1v1h-1v1h-1v-1h-1v-1h-1v-1h1v-1h1zM971 598h1v1h1v1h1v1h-1v1h-1v1h-1v-1h-1v-1h-1v-1h1v-1h1zM973 598h1v1h1v1h1v1h-1v1h-1v1h-1v-1h-1v-1h-1v-1h1v-1h1zM975 598h1v1h1v1h1v1h-1v1h-1v1h-1v-1h-1v-1h-1v-1h1v-1h1zM977 598h1v1h1v1h1v1h-1v1h-1v1h-1v-1h-1v-1h-1v-1h1v-1h1zM979 598h1v1h1v1h1v1h-1v1h-1v1h-1v-1h-1v-1h-1v-1h1v-1h1zM979 598h1v1h1v1h1v1h-1v1h-1v1h-1v-1h-1v-1h-1v-1h1v-1h1zM970 600h1v1h1v1h1v1h-1v1h-1v1h-1v-1h-1v-1h-1v-1h1v-1h1zM972 600h1v1h1v1h1v1h-1v1h-1v1h-1v-1h-1v-1h-1v-1h1v-1h1zM974 600h1v1h1v1h1v1h-1v1h-1v1h-1v-1h-1v-1h-1v-1h1v-1h1zM976 600h1v1h1v1h1v1h-1v1h-1v1h-1v-1h-1v-1h-1v-1h1v-1h1zM978 600h1v1h1v1h1v1h-1v1h-1v1h-1v-1h-1v-1h-1v-1h1v-1h1zM979 600h1v1h1v1h1v1h-1v1h-1v1h-1v-1h-1v-1h-1v-1h1v-1h1zM969 602h1v1h1v1h1v1h-1v1h-1v1h-1v-1h-1v-1h-1v-1h1v-1h1zM971 602h1v1h1v1h1v1h-1v1h-1v1h-1v-1h-1v-1h-1v-1h1v-1h1zM973 602h1v1h1v1h1v1h-1v1h-1v1h-1v-1h-1v-1h-1v-1h1v-1h1zM975 602h1v1h1v1h1v1h-1v1h-1v1h-1v-1h-1v-1h-1v-1h1v-1h1zM977 602h1v1h1v1h1v1h-1v1h-1v1h-1v-1h-1v-1h-1v-1h1v-1h1zM979 602h1v1h1v1h1v1h-1v1h-1v1h-1v-1h-1v-1h-1v-1h1v-1h1zM981 602h1v1h1v1h1v1h-1v1h-1v1h-1v-1h-1v-1h-1v-1h1v-1h1zM970 604h1v1h1v1h1v1h-1v1h-1v1h-1v-1h-1v-1h-1v-1h1v-1h1zM972 604h1v1h1v1h1v1h-1v1h-1v1h-1v-1h-1v-1h-1v-1h1v-1h1zM974 604h1v1h1v1h1v1h-1v1h-1v1h-1v-1h-1v-1h-1v-1h1v-1h1zM976 604h1v1h1v1h1v1h-1v1h-1v1h-1v-1h-1v-1h-1v-1h1v-1h1zM978 604h1v1h1v1h1v1h-1v1h-1v1h-1v-1h-1v-1h-1v-1h1v-1h1zM980 604h1v1h1v1h1v1h-1v1h-1v1h-1v-1h-1v-1h-1v-1h1v-1h1zM980 604h1v1h1v1h1v1h-1v1h-1v1h-1v-1h-1v-1h-1v-1h1v-1h1zM969 606h1v1h1v1h1v1h-1v1h-1v1h-1v-1h-1v-1h-1v-1h1v-1h1zM971 606h1v1h1v1h1v1h-1v1h-1v1h-1v-1h-1v-1h-1v-1h1v-1h1zM973 606h1v1h1v1h1v1h-1v1h-1v1h-1v-1h-1v-1h-1v-1h1v-1h1zM975 606h1v1h1v1h1v1h-1v1h-1v1h-1v-1h-1v-1h-1v-1h1v-1h1zM977 606h1v1h1v1h1v1h-1v1h-1v1h-1v-1h-1v-1h-1v-1h1v-1h1zM979 606h1v1h1v1h1v1h-1v1h-1v1h-1v-1h-1v-1h-1v-1h1v-1h1zM981 606h1v1h1v1h1v1h-1v1h-1v1h-1v-1h-1v-1h-1v-1h1v-1h1zM970 608h1v1h1v1h1v1h-1v1h-1v1h-1v-1h-1v-1h-1v-1h1v-1h1zM972 608h1v1h1v1h1v1h-1v1h-1v1h-1v-1h-1v-1h-1v-1h1v-1h1zM974 608h1v1h1v1h1v1h-1v1h-1v1h-1v-1h-1v-1h-1v-1h1v-1h1zM976 608h1v1h1v1h1v1h-1v1h-1v1h-1v-1h-1v-1h-1v-1h1v-1h1zM978 608h1v1h1v1h1v1h-1v1h-1v1h-1v-1h-1v-1h-1v-1h1v-1h1zM980 608h1v1h1v1h1v1h-1v1h-1v1h-1v-1h-1v-1h-1v-1h1v-1h1zM981 608h1v1h1v1h1v1h-1v1h-1v1h-1v-1h-1v-1h-1v-1h1v-1h1zM969 610h1v1h1v1h1v1h-1v1h-1v1h-1v-1h-1v-1h-1v-1h1v-1h1zM971 610h1v1h1v1h1v1h-1v1h-1v1h-1v-1h-1v-1h-1v-1h1v-1h1zM973 610h1v1h1v1h1v1h-1v1h-1v1h-1v-1h-1v-1h-1v-1h1v-1h1zM975 610h1v1h1v1h1v1h-1v1h-1v1h-1v-1h-1v-1h-1v-1h1v-1h1zM977 610h1v1h1v1h1v1h-1v1h-1v1h-1v-1h-1v-1h-1v-1h1v-1h1zM979 610h1v1h1v1h1v1h-1v1h-1v1h-1v-1h-1v-1h-1v-1h1v-1h1zM981 610h1v1h1v1h1v1h-1v1h-1v1h-1v-1h-1v-1h-1v-1h1v-1h1zM970 612h1v1h1v1h1v1h-1v1h-1v1h-1v-1h-1v-1h-1v-1h1v-1h1zM972 612h1v1h1v1h1v1h-1v1h-1v1h-1v-1h-1v-1h-1v-1h1v-1h1zM974 612h1v1h1v1h1v1h-1v1h-1v1h-1v-1h-1v-1h-1v-1h1v-1h1zM976 612h1v1h1v1h1v1h-1v1h-1v1h-1v-1h-1v-1h-1v-1h1v-1h1zM978 612h1v1h1v1h1v1h-1v1h-1v1h-1v-1h-1v-1h-1v-1h1v-1h1zM980 612h1v1h1v1h1v1h-1v1h-1v1h-1v-1h-1v-1h-1v-1h1v-1h1zM981 612h1v1h1v1h1v1h-1v1h-1v1h-1v-1h-1v-1h-1v-1h1v-1h1zM970 614h1v1h1v1h1v1h-1v1h-1v1h-1v-1h-1v-1h-1v-1h1v-1h1zM972 614h1v1h1v1h1v1h-1v1h-1v1h-1v-1h-1v-1h-1v-1h1v-1h1zM974 614h1v1h1v1h1v1h-1v1h-1v1h-1v-1h-1v-1h-1v-1h1v-1h1zM976 614h1v1h1v1h1v1h-1v1h-1v1h-1v-1h-1v-1h-1v-1h1v-1h1zM978 614h1v1h1v1h1v1h-1v1h-1v1h-1v-1h-1v-1h-1v-1h1v-1h1zM980 614h1v1h1v1h1v1h-1v1h-1v1h-1v-1h-1v-1h-1v-1h1v-1h1zM980 614h1v1h1v1h1v1h-1v1h-1v1h-1v-1h-1v-1h-1v-1h1v-1h1zM969 616h1v1h1v1h1v1h-1v1h-1v1h-1v-1h-1v-1h-1v-1h1v-1h1zM971 616h1v1h1v1h1v1h-1v1h-1v1h-1v-1h-1v-1h-1v-1h1v-1h1zM973 616h1v1h1v1h1v1h-1v1h-1v1h-1v-1h-1v-1h-1v-1h1v-1h1zM975 616h1v1h1v1h1v1h-1v1h-1v1h-1v-1h-1v-1h-1v-1h1v-1h1zM977 616h1v1h1v1h1v1h-1v1h-1v1h-1v-1h-1v-1h-1v-1h1v-1h1zM979 616h1v1h1v1h1v1h-1v1h-1v1h-1v-1h-1v-1h-1v-1h1v-1h1zM980 616h1v1h1v1h1v1h-1v1h-1v1h-1v-1h-1v-1h-1v-1h1v-1h1zM969 618h1v1h1v1h1v1h-1v1h-1v1h-1v-1h-1v-1h-1v-1h1v-1h1zM971 618h1v1h1v1h1v1h-1v1h-1v1h-1v-1h-1v-1h-1v-1h1v-1h1zM973 618h1v1h1v1h1v1h-1v1h-1v1h-1v-1h-1v-1h-1v-1h1v-1h1zM975 618h1v1h1v1h1v1h-1v1h-1v1h-1v-1h-1v-1h-1v-1h1v-1h1zM977 618h1v1h1v1h1v1h-1v1h-1v1h-1v-1h-1v-1h-1v-1h1v-1h1zM979 618h1v1h1v1h1v1h-1v1h-1v1h-1v-1h-1v-1h-1v-1h1v-1h1zM981 618h1v1h1v1h1v1h-1v1h-1v1h-1v-1h-1v-1h-1v-1h1v-1h1zM982 618h1v1h1v1h1v1h-1v1h-1v1h-1v-1h-1v-1h-1v-1h1v-1h1zM969 620h1v1h1v1h1v1h-1v1h-1v1h-1v-1h-1v-1h-1v-1h1v-1h1zM971 620h1v1h1v1h1v1h-1v1h-1v1h-1v-1h-1v-1h-1v-1h1v-1h1zM973 620h1v1h1v1h1v1h-1v1h-1v1h-1v-1h-1v-1h-1v-1h1v-1h1zM975 620h1v1h1v1h1v1h-1v1h-1v1h-1v-1h-1v-1h-1v-1h1v-1h1zM977 620h1v1h1v1h1v1h-1v1h-1v1h-1v-1h-1v-1h-1v-1h1v-1h1zM979 620h1v1h1v1h1v1h-1v1h-1v1h-1v-1h-1v-1h-1v-1h1v-1h1zM981 620h1v1h1v1h1v1h-1v1h-1v1h-1v-1h-1v-1h-1v-1h1v-1h1zM969 622h1v1h1v1h1v1h-1v1h-1v1h-1v-1h-1v-1h-1v-1h1v-1h1zM971 622h1v1h1v1h1v1h-1v1h-1v1h-1v-1h-1v-1h-1v-1h1v-1h1zM973 622h1v1h1v1h1v1h-1v1h-1v1h-1v-1h-1v-1h-1v-1h1v-1h1zM975 622h1v1h1v1h1v1h-1v1h-1v1h-1v-1h-1v-1h-1v-1h1v-1h1zM977 622h1v1h1v1h1v1h-1v1h-1v1h-1v-1h-1v-1h-1v-1h1v-1h1zM979 622h1v1h1v1h1v1h-1v1h-1v1h-1v-1h-1v-1h-1v-1h1v-1h1zM981 622h1v1h1v1h1v1h-1v1h-1v1h-1v-1h-1v-1h-1v-1h1v-1h1zM982 622h1v1h1v1h1v1h-1v1h-1v1h-1v-1h-1v-1h-1v-1h1v-1h1zM969 624h1v1h1v1h1v1h-1v1h-1v1h-1v-1h-1v-1h-1v-1h1v-1h1zM971 624h1v1h1v1h1v1h-1v1h-1v1h-1v-1h-1v-1h-1v-1h1v-1h1zM973 624h1v1h1v1h1v1h-1v1h-1v1h-1v-1h-1v-1h-1v-1h1v-1h1zM975 624h1v1h1v1h1v1h-1v1h-1v1h-1v-1h-1v-1h-1v-1h1v-1h1zM977 624h1v1h1v1h1v1h-1v1h-1v1h-1v-1h-1v-1h-1v-1h1v-1h1zM979 624h1v1h1v1h1v1h-1v1h-1v1h-1v-1h-1v-1h-1v-1h1v-1h1zM981 624h1v1h1v1h1v1h-1v1h-1v1h-1v-1h-1v-1h-1v-1h1v-1h1zM982 624h1v1h1v1h1v1h-1v1h-1v1h-1v-1h-1v-1h-1v-1h1v-1h1zM970 626h1v1h1v1h1v1h-1v1h-1v1h-1v-1h-1v-1h-1v-1h1v-1h1zM972 626h1v1h1v1h1v1h-1v1h-1v1h-1v-1h-1v-1h-1v-1h1v-1h1zM974 626h1v1h1v1h1v1h-1v1h-1v1h-1v-1h-1v-1h-1v-1h1v-1h1zM976 626h1v1h1v1h1v1h-1v1h-1v1h-1v-1h-1v-1h-1v-1h1v-1h1zM978 626h1v1h1v1h1v1h-1v1h-1v1h-1v-1h-1v-1h-1v-1h1v-1h1zM980 626h1v1h1v1h1v1h-1v1h-1v1h-1v-1h-1v-1h-1v-1h1v-1h1zM980 626h1v1h1v1h1v1h-1v1h-1v1h-1v-1h-1v-1h-1v-1h1v-1h1zM969 628h1v1h1v1h1v1h-1v1h-1v1h-1v-1h-1v-1h-1v-1h1v-1h1zM971 628h1v1h1v1h1v1h-1v1h-1v1h-1v-1h-1v-1h-1v-1h1v-1h1zM973 628h1v1h1v1h1v1h-1v1h-1v1h-1v-1h-1v-1h-1v-1h1v-1h1zM975 628h1v1h1v1h1v1h-1v1h-1v1h-1v-1h-1v-1h-1v-1h1v-1h1zM977 628h1v1h1v1h1v1h-1v1h-1v1h-1v-1h-1v-1h-1v-1h1v-1h1zM979 628h1v1h1v1h1v1h-1v1h-1v1h-1v-1h-1v-1h-1v-1h1v-1h1zM981 628h1v1h1v1h1v1h-1v1h-1v1h-1v-1h-1v-1h-1v-1h1v-1h1zM982 628h1v1h1v1h1v1h-1v1h-1v1h-1v-1h-1v-1h-1v-1h1v-1h1zM969 630h1v1h1v1h1v1h-1v1h-1v1h-1v-1h-1v-1h-1v-1h1v-1h1zM971 630h1v1h1v1h1v1h-1v1h-1v1h-1v-1h-1v-1h-1v-1h1v-1h1zM973 630h1v1h1v1h1v1h-1v1h-1v1h-1v-1h-1v-1h-1v-1h1v-1h1zM975 630h1v1h1v1h1v1h-1v1h-1v1h-1v-1h-1v-1h-1v-1h1v-1h1zM977 630h1v1h1v1h1v1h-1v1h-1v1h-1v-1h-1v-1h-1v-1h1v-1h1zM979 630h1v1h1v1h1v1h-1v1h-1v1h-1v-1h-1v-1h-1v-1h1v-1h1zM981 630h1v1h1v1h1v1h-1v1h-1v1h-1v-1h-1v-1h-1v-1h1v-1h1zM982 630h1v1h1v1h1v1h-1v1h-1v1h-1v-1h-1v-1h-1v-1h1v-1h1zM969 632h1v1h1v1h1v1h-1v1h-1v1h-1v-1h-1v-1h-1v-1h1v-1h1zM971 632h1v1h1v1h1v1h-1v1h-1v1h-1v-1h-1v-1h-1v-1h1v-1h1zM973 632h1v1h1v1h1v1h-1v1h-1v1h-1v-1h-1v-1h-1v-1h1v-1h1zM975 632h1v1h1v1h1v1h-1v1h-1v1h-1v-1h-1v-1h-1v-1h1v-1h1zM977 632h1v1h1v1h1v1h-1v1h-1v1h-1v-1h-1v-1h-1v-1h1v-1h1zM979 632h1v1h1v1h1v1h-1v1h-1v1h-1v-1h-1v-1h-1v-1h1v-1h1zM981 632h1v1h1v1h1v1h-1v1h-1v1h-1v-1h-1v-1h-1v-1h1v-1h1zM982 632h1v1h1v1h1v1h-1v1h-1v1h-1v-1h-1v-1h-1v-1h1v-1h1zM970 634h1v1h1v1h1v1h-1v1h-1v1h-1v-1h-1v-1h-1v-1h1v-1h1zM972 634h1v1h1v1h1v1h-1v1h-1v1h-1v-1h-1v-1h-1v-1h1v-1h1zM974 634h1v1h1v1h1v1h-1v1h-1v1h-1v-1h-1v-1h-1v-1h1v-1h1zM976 634h1v1h1v1h1v1h-1v1h-1v1h-1v-1h-1v-1h-1v-1h1v-1h1zM978 634h1v1h1v1h1v1h-1v1h-1v1h-1v-1h-1v-1h-1v-1h1v-1h1zM980 634h1v1h1v1h1v1h-1v1h-1v1h-1v-1h-1v-1h-1v-1h1v-1h1zM980 634h1v1h1v1h1v1h-1v1h-1v1h-1v-1h-1v-1h-1v-1h1v-1h1zM970 636h1v1h1v1h1v1h-1v1h-1v1h-1v-1h-1v-1h-1v-1h1v-1h1zM972 636h1v1h1v1h1v1h-1v1h-1v1h-1v-1h-1v-1h-1v-1h1v-1h1zM974 636h1v1h1v1h1v1h-1v1h-1v1h-1v-1h-1v-1h-1v-1h1v-1h1zM976 636h1v1h1v1h1v1h-1v1h-1v1h-1v-1h-1v-1h-1v-1h1v-1h1zM978 636h1v1h1v1h1v1h-1v1h-1v1h-1v-1h-1v-1h-1v-1h1v-1h1zM980 636h1v1h1v1h1v1h-1v1h-1v1h-1v-1h-1v-1h-1v-1h1v-1h1zM982 636h1v1h1v1h1v1h-1v1h-1v1h-1v-1h-1v-1h-1v-1h1v-1h1zM970 638h1v1h1v1h1v1h-1v1h-1v1h-1v-1h-1v-1h-1v-1h1v-1h1zM972 638h1v1h1v1h1v1h-1v1h-1v1h-1v-1h-1v-1h-1v-1h1v-1h1zM974 638h1v1h1v1h1v1h-1v1h-1v1h-1v-1h-1v-1h-1v-1h1v-1h1zM976 638h1v1h1v1h1v1h-1v1h-1v1h-1v-1h-1v-1h-1v-1h1v-1h1zM978 638h1v1h1v1h1v1h-1v1h-1v1h-1v-1h-1v-1h-1v-1h1v-1h1zM980 638h1v1h1v1h1v1h-1v1h-1v1h-1v-1h-1v-1h-1v-1h1v-1h1zM969 640h1v1h1v1h1v1h-1v1h-1v1h-1v-1h-1v-1h-1v-1h1v-1h1zM971 640h1v1h1v1h1v1h-1v1h-1v1h-1v-1h-1v-1h-1v-1h1v-1h1zM973 640h1v1h1v1h1v1h-1v1h-1v1h-1v-1h-1v-1h-1v-1h1v-1h1zM975 640h1v1h1v1h1v1h-1v1h-1v1h-1v-1h-1v-1h-1v-1h1v-1h1zM977 640h1v1h1v1h1v1h-1v1h-1v1h-1v-1h-1v-1h-1v-1h1v-1h1zM979 640h1v1h1v1h1v1h-1v1h-1v1h-1v-1h-1v-1h-1v-1h1v-1h1zM980 640h1v1h1v1h1v1h-1v1h-1v1h-1v-1h-1v-1h-1v-1h1v-1h1zM969 642h1v1h1v1h1v1h-1v1h-1v1h-1v-1h-1v-1h-1v-1h1v-1h1zM971 642h1v1h1v1h1v1h-1v1h-1v1h-1v-1h-1v-1h-1v-1h1v-1h1zM973 642h1v1h1v1h1v1h-1v1h-1v1h-1v-1h-1v-1h-1v-1h1v-1h1zM975 642h1v1h1v1h1v1h-1v1h-1v1h-1v-1h-1v-1h-1v-1h1v-1h1zM977 642h1v1h1v1h1v1h-1v1h-1v1h-1v-1h-1v-1h-1v-1h1v-1h1zM979 642h1v1h1v1h1v1h-1v1h-1v1h-1v-1h-1v-1h-1v-1h1v-1h1zM980 642h1v1h1v1h1v1h-1v1h-1v1h-1v-1h-1v-1h-1v-1h1v-1h1zM969 644h1v1h1v1h1v1h-1v1h-1v1h-1v-1h-1v-1h-1v-1h1v-1h1zM971 644h1v1h1v1h1v1h-1v1h-1v1h-1v-1h-1v-1h-1v-1h1v-1h1zM973 644h1v1h1v1h1v1h-1v1h-1v1h-1v-1h-1v-1h-1v-1h1v-1h1zM975 644h1v1h1v1h1v1h-1v1h-1v1h-1v-1h-1v-1h-1v-1h1v-1h1zM977 644h1v1h1v1h1v1h-1v1h-1v1h-1v-1h-1v-1h-1v-1h1v-1h1zM979 644h1v1h1v1h1v1h-1v1h-1v1h-1v-1h-1v-1h-1v-1h1v-1h1zM981 644h1v1h1v1h1v1h-1v1h-1v1h-1v-1h-1v-1h-1v-1h1v-1h1zM982 644h1v1h1v1h1v1h-1v1h-1v1h-1v-1h-1v-1h-1v-1h1v-1h1zM969 646h1v1h1v1h1v1h-1v1h-1v1h-1v-1h-1v-1h-1v-1h1v-1h1zM971 646h1v1h1v1h1v1h-1v1h-1v1h-1v-1h-1v-1h-1v-1h1v-1h1zM973 646h1v1h1v1h1v1h-1v1h-1v1h-1v-1h-1v-1h-1v-1h1v-1h1zM975 646h1v1h1v1h1v1h-1v1h-1v1h-1v-1h-1v-1h-1v-1h1v-1h1zM977 646h1v1h1v1h1v1h-1v1h-1v1h-1v-1h-1v-1h-1v-1h1v-1h1zM979 646h1v1h1v1h1v1h-1v1h-1v1h-1v-1h-1v-1h-1v-1h1v-1h1zM981 646h1v1h1v1h1v1h-1v1h-1v1h-1v-1h-1v-1h-1v-1h1v-1h1zM982 646h1v1h1v1h1v1h-1v1h-1v1h-1v-1h-1v-1h-1v-1h1v-1h1zM970 648h1v1h1v1h1v1h-1v1h-1v1h-1v-1h-1v-1h-1v-1h1v-1h1zM972 648h1v1h1v1h1v1h-1v1h-1v1h-1v-1h-1v-1h-1v-1h1v-1h1zM974 648h1v1h1v1h1v1h-1v1h-1v1h-1v-1h-1v-1h-1v-1h1v-1h1zM976 648h1v1h1v1h1v1h-1v1h-1v1h-1v-1h-1v-1h-1v-1h1v-1h1zM978 648h1v1h1v1h1v1h-1v1h-1v1h-1v-1h-1v-1h-1v-1h1v-1h1zM980 648h1v1h1v1h1v1h-1v1h-1v1h-1v-1h-1v-1h-1v-1h1v-1h1zM980 648h1v1h1v1h1v1h-1v1h-1v1h-1v-1h-1v-1h-1v-1h1v-1h1zM969 650h1v1h1v1h1v1h-1v1h-1v1h-1v-1h-1v-1h-1v-1h1v-1h1zM971 650h1v1h1v1h1v1h-1v1h-1v1h-1v-1h-1v-1h-1v-1h1v-1h1zM973 650h1v1h1v1h1v1h-1v1h-1v1h-1v-1h-1v-1h-1v-1h1v-1h1zM975 650h1v1h1v1h1v1h-1v1h-1v1h-1v-1h-1v-1h-1v-1h1v-1h1zM977 650h1v1h1v1h1v1h-1v1h-1v1h-1v-1h-1v-1h-1v-1h1v-1h1zM979 650h1v1h1v1h1v1h-1v1h-1v1h-1v-1h-1v-1h-1v-1h1v-1h1zM980 650h1v1h1v1h1v1h-1v1h-1v1h-1v-1h-1v-1h-1v-1h1v-1h1zM969 652h1v1h1v1h1v1h-1v1h-1v1h-1v-1h-1v-1h-1v-1h1v-1h1zM971 652h1v1h1v1h1v1h-1v1h-1v1h-1v-1h-1v-1h-1v-1h1v-1h1zM973 652h1v1h1v1h1v1h-1v1h-1v1h-1v-1h-1v-1h-1v-1h1v-1h1zM975 652h1v1h1v1h1v1h-1v1h-1v1h-1v-1h-1v-1h-1v-1h1v-1h1zM977 652h1v1h1v1h1v1h-1v1h-1v1h-1v-1h-1v-1h-1v-1h1v-1h1zM979 652h1v1h1v1h1v1h-1v1h-1v1h-1v-1h-1v-1h-1v-1h1v-1h1zM980 652h1v1h1v1h1v1h-1v1h-1v1h-1v-1h-1v-1h-1v-1h1v-1h1zM969 654h1v1h1v1h1v1h-1v1h-1v1h-1v-1h-1v-1h-1v-1h1v-1h1zM971 654h1v1h1v1h1v1h-1v1h-1v1h-1v-1h-1v-1h-1v-1h1v-1h1zM973 654h1v1h1v1h1v1h-1v1h-1v1h-1v-1h-1v-1h-1v-1h1v-1h1zM975 654h1v1h1v1h1v1h-1v1h-1v1h-1v-1h-1v-1h-1v-1h1v-1h1zM977 654h1v1h1v1h1v1h-1v1h-1v1h-1v-1h-1v-1h-1v-1h1v-1h1zM979 654h1v1h1v1h1v1h-1v1h-1v1h-1v-1h-1v-1h-1v-1h1v-1h1zM981 654h1v1h1v1h1v1h-1v1h-1v1h-1v-1h-1v-1h-1v-1h1v-1h1zM982 654h1v1h1v1h1v1h-1v1h-1v1h-1v-1h-1v-1h-1v-1h1v-1h1zM969 656h1v1h1v1h1v1h-1v1h-1v1h-1v-1h-1v-1h-1v-1h1v-1h1zM971 656h1v1h1v1h1v1h-1v1h-1v1h-1v-1h-1v-1h-1v-1h1v-1h1zM973 656h1v1h1v1h1v1h-1v1h-1v1h-1v-1h-1v-1h-1v-1h1v-1h1zM975 656h1v1h1v1h1v1h-1v1h-1v1h-1v-1h-1v-1h-1v-1h1v-1h1zM977 656h1v1h1v1h1v1h-1v1h-1v1h-1v-1h-1v-1h-1v-1h1v-1h1zM979 656h1v1h1v1h1v1h-1v1h-1v1h-1v-1h-1v-1h-1v-1h1v-1h1zM980 656h1v1h1v1h1v1h-1v1h-1v1h-1v-1h-1v-1h-1v-1h1v-1h1zM969 658h1v1h1v1h1v1h-1v1h-1v1h-1v-1h-1v-1h-1v-1h1v-1h1zM971 658h1v1h1v1h1v1h-1v1h-1v1h-1v-1h-1v-1h-1v-1h1v-1h1zM973 658h1v1h1v1h1v1h-1v1h-1v1h-1v-1h-1v-1h-1v-1h1v-1h1zM975 658h1v1h1v1h1v1h-1v1h-1v1h-1v-1h-1v-1h-1v-1h1v-1h1zM977 658h1v1h1v1h1v1h-1v1h-1v1h-1v-1h-1v-1h-1v-1h1v-1h1zM979 658h1v1h1v1h1v1h-1v1h-1v1h-1v-1h-1v-1h-1v-1h1v-1h1zM981 658h1v1h1v1h1v1h-1v1h-1v1h-1v-1h-1v-1h-1v-1h1v-1h1zM969 660h1v1h1v1h1v1h-1v1h-1v1h-1v-1h-1v-1h-1v-1h1v-1h1zM971 660h1v1h1v1h1v1h-1v1h-1v1h-1v-1h-1v-1h-1v-1h1v-1h1zM973 660h1v1h1v1h1v1h-1v1h-1v1h-1v-1h-1v-1h-1v-1h1v-1h1zM975 660h1v1h1v1h1v1h-1v1h-1v1h-1v-1h-1v-1h-1v-1h1v-1h1zM977 660h1v1h1v1h1v1h-1v1h-1v1h-1v-1h-1v-1h-1v-1h1v-1h1zM979 660h1v1h1v1h1v1h-1v1h-1v1h-1v-1h-1v-1h-1v-1h1v-1h1zM981 660h1v1h1v1h1v1h-1v1h-1v1h-1v-1h-1v-1h-1v-1h1v-1h1zM969 662h1v1h1v1h1v1h-1v1h-1v1h-1v-1h-1v-1h-1v-1h1v-1h1zM971 662h1v1h1v1h1v1h-1v1h-1v1h-1v-1h-1v-1h-1v-1h1v-1h1zM973 662h1v1h1v1h1v1h-1v1h-1v1h-1v-1h-1v-1h-1v-1h1v-1h1zM975 662h1v1h1v1h1v1h-1v1h-1v1h-1v-1h-1v-1h-1v-1h1v-1h1zM977 662h1v1h1v1h1v1h-1v1h-1v1h-1v-1h-1v-1h-1v-1h1v-1h1zM979 662h1v1h1v1h1v1h-1v1h-1v1h-1v-1h-1v-1h-1v-1h1v-1h1zM981 662h1v1h1v1h1v1h-1v1h-1v1h-1v-1h-1v-1h-1v-1h1v-1h1zM970 664h1v1h1v1h1v1h-1v1h-1v1h-1v-1h-1v-1h-1v-1h1v-1h1zM972 664h1v1h1v1h1v1h-1v1h-1v1h-1v-1h-1v-1h-1v-1h1v-1h1zM974 664h1v1h1v1h1v1h-1v1h-1v1h-1v-1h-1v-1h-1v-1h1v-1h1zM976 664h1v1h1v1h1v1h-1v1h-1v1h-1v-1h-1v-1h-1v-1h1v-1h1zM978 664h1v1h1v1h1v1h-1v1h-1v1h-1v-1h-1v-1h-1v-1h1v-1h1zM980 664h1v1h1v1h1v1h-1v1h-1v1h-1v-1h-1v-1h-1v-1h1v-1h1zM982 664h1v1h1v1h1v1h-1v1h-1v1h-1v-1h-1v-1h-1v-1h1v-1h1zM969 666h1v1h1v1h1v1h-1v1h-1v1h-1v-1h-1v-1h-1v-1h1v-1h1zM971 666h1v1h1v1h1v1h-1v1h-1v1h-1v-1h-1v-1h-1v-1h1v-1h1zM973 666h1v1h1v1h1v1h-1v1h-1v1h-1v-1h-1v-1h-1v-1h1v-1h1zM975 666h1v1h1v1h1v1h-1v1h-1v1h-1v-1h-1v-1h-1v-1h1v-1h1zM977 666h1v1h1v1h1v1h-1v1h-1v1h-1v-1h-1v-1h-1v-1h1v-1h1zM979 666h1v1h1v1h1v1h-1v1h-1v1h-1v-1h-1v-1h-1v-1h1v-1h1zM980 666h1v1h1v1h1v1h-1v1h-1v1h-1v-1h-1v-1h-1v-1h1v-1h1zM970 668h1v1h1v1h1v1h-1v1h-1v1h-1v-1h-1v-1h-1v-1h1v-1h1zM972 668h1v1h1v1h1v1h-1v1h-1v1h-1v-1h-1v-1h-1v-1h1v-1h1zM974 668h1v1h1v1h1v1h-1v1h-1v1h-1v-1h-1v-1h-1v-1h1v-1h1zM976 668h1v1h1v1h1v1h-1v1h-1v1h-1v-1h-1v-1h-1v-1h1v-1h1zM978 668h1v1h1v1h1v1h-1v1h-1v1h-1v-1h-1v-1h-1v-1h1v-1h1zM980 668h1v1h1v1h1v1h-1v1h-1v1h-1v-1h-1v-1h-1v-1h1v-1h1zM982 668h1v1h1v1h1v1h-1v1h-1v1h-1v-1h-1v-1h-1v-1h1v-1h1zM970 670h1v1h1v1h1v1h-1v1h-1v1h-1v-1h-1v-1h-1v-1h1v-1h1zM972 670h1v1h1v1h1v1h-1v1h-1v1h-1v-1h-1v-1h-1v-1h1v-1h1zM974 670h1v1h1v1h1v1h-1v1h-1v1h-1v-1h-1v-1h-1v-1h1v-1h1zM976 670h1v1h1v1h1v1h-1v1h-1v1h-1v-1h-1v-1h-1v-1h1v-1h1zM978 670h1v1h1v1h1v1h-1v1h-1v1h-1v-1h-1v-1h-1v-1h1v-1h1zM980 670h1v1h1v1h1v1h-1v1h-1v1h-1v-1h-1v-1h-1v-1h1v-1h1zM969 672h1v1h1v1h1v1h-1v1h-1v1h-1v-1h-1v-1h-1v-1h1v-1h1zM971 672h1v1h1v1h1v1h-1v1h-1v1h-1v-1h-1v-1h-1v-1h1v-1h1zM973 672h1v1h1v1h1v1h-1v1h-1v1h-1v-1h-1v-1h-1v-1h1v-1h1zM975 672h1v1h1v1h1v1h-1v1h-1v1h-1v-1h-1v-1h-1v-1h1v-1h1zM977 672h1v1h1v1h1v1h-1v1h-1v1h-1v-1h-1v-1h-1v-1h1v-1h1zM979 672h1v1h1v1h1v1h-1v1h-1v1h-1v-1h-1v-1h-1v-1h1v-1h1zM980 672h1v1h1v1h1v1h-1v1h-1v1h-1v-1h-1v-1h-1v-1h1v-1h1zM970 674h1v1h1v1h1v1h-1v1h-1v1h-1v-1h-1v-1h-1v-1h1v-1h1zM972 674h1v1h1v1h1v1h-1v1h-1v1h-1v-1h-1v-1h-1v-1h1v-1h1zM974 674h1v1h1v1h1v1h-1v1h-1v1h-1v-1h-1v-1h-1v-1h1v-1h1zM976 674h1v1h1v1h1v1h-1v1h-1v1h-1v-1h-1v-1h-1v-1h1v-1h1zM978 674h1v1h1v1h1v1h-1v1h-1v1h-1v-1h-1v-1h-1v-1h1v-1h1zM980 674h1v1h1v1h1v1h-1v1h-1v1h-1v-1h-1v-1h-1v-1h1v-1h1zM969 676h1v1h1v1h1v1h-1v1h-1v1h-1v-1h-1v-1h-1v-1h1v-1h1zM971 676h1v1h1v1h1v1h-1v1h-1v1h-1v-1h-1v-1h-1v-1h1v-1h1zM973 676h1v1h1v1h1v1h-1v1h-1v1h-1v-1h-1v-1h-1v-1h1v-1h1zM975 676h1v1h1v1h1v1h-1v1h-1v1h-1v-1h-1v-1h-1v-1h1v-1h1zM977 676h1v1h1v1h1v1h-1v1h-1v1h-1v-1h-1v-1h-1v-1h1v-1h1zM979 676h1v1h1v1h1v1h-1v1h-1v1h-1v-1h-1v-1h-1v-1h1v-1h1zM980 676h1v1h1v1h1v1h-1v1h-1v1h-1v-1h-1v-1h-1v-1h1v-1h1zM972 677h1v1h1v1h1v1h-1v1h-1v1h-1v-1h-1v-1h-1v-1h1v-1h1zM974 677h1v1h1v1h1v1h-1v1h-1v1h-1v-1h-1v-1h-1v-1h1v-1h1zM976 677h1v1h1v1h1v1h-1v1h-1v1h-1v-1h-1v-1h-1v-1h1v-1h1zM978 677h1v1h1v1h1v1h-1v1h-1v1h-1v-1h-1v-1h-1v-1h1v-1h1zM980 677h1v1h1v1h1v1h-1v1h-1v1h-1v-1h-1v-1h-1v-1h1v-1h1zM981 677h1v1h1v1h1v1h-1v1h-1v1h-1v-1h-1v-1h-1v-1h1v-1h1zM972 679h1v1h1v1h1v1h-1v1h-1v1h-1v-1h-1v-1h-1v-1h1v-1h1zM974 679h1v1h1v1h1v1h-1v1h-1v1h-1v-1h-1v-1h-1v-1h1v-1h1zM976 679h1v1h1v1h1v1h-1v1h-1v1h-1v-1h-1v-1h-1v-1h1v-1h1zM978 679h1v1h1v1h1v1h-1v1h-1v1h-1v-1h-1v-1h-1v-1h1v-1h1zM980 679h1v1h1v1h1v1h-1v1h-1v1h-1v-1h-1v-1h-1v-1h1v-1h1zM981 679h1v1h1v1h1v1h-1v1h-1v1h-1v-1h-1v-1h-1v-1h1v-1h1zM973 681h1v1h1v1h1v1h-1v1h-1v1h-1v-1h-1v-1h-1v-1h1v-1h1zM975 681h1v1h1v1h1v1h-1v1h-1v1h-1v-1h-1v-1h-1v-1h1v-1h1zM977 681h1v1h1v1h1v1h-1v1h-1v1h-1v-1h-1v-1h-1v-1h1v-1h1zM979 681h1v1h1v1h1v1h-1v1h-1v1h-1v-1h-1v-1h-1v-1h1v-1h1zM981 681h1v1h1v1h1v1h-1v1h-1v1h-1v-1h-1v-1h-1v-1h1v-1h1zM981 681h1v1h1v1h1v1h-1v1h-1v1h-1v-1h-1v-1h-1v-1h1v-1h1zM974 683h1v1h1v1h1v1h-1v1h-1v1h-1v-1h-1v-1h-1v-1h1v-1h1zM976 683h1v1h1v1h1v1h-1v1h-1v1h-1v-1h-1v-1h-1v-1h1v-1h1zM978 683h1v1h1v1h1v1h-1v1h-1v1h-1v-1h-1v-1h-1v-1h1v-1h1zM980 683h1v1h1v1h1v1h-1v1h-1v1h-1v-1h-1v-1h-1v-1h1v-1h1zM981 683h1v1h1v1h1v1h-1v1h-1v1h-1v-1h-1v-1h-1v-1h1v-1h1zM975 685h1v1h1v1h1v1h-1v1h-1v1h-1v-1h-1v-1h-1v-1h1v-1h1zM977 685h1v1h1v1h1v1h-1v1h-1v1h-1v-1h-1v-1h-1v-1h1v-1h1zM979 685h1v1h1v1h1v1h-1v1h-1v1h-1v-1h-1v-1h-1v-1h1v-1h1zM981 685h1v1h1v1h1v1h-1v1h-1v1h-1v-1h-1v-1h-1v-1h1v-1h1zM981 685h1v1h1v1h1v1h-1v1h-1v1h-1v-1h-1v-1h-1v-1h1v-1h1zM974 687h1v1h1v1h1v1h-1v1h-1v1h-1v-1h-1v-1h-1v-1h1v-1h1zM976 687h1v1h1v1h1v1h-1v1h-1v1h-1v-1h-1v-1h-1v-1h1v-1h1zM978 687h1v1h1v1h1v1h-1v1h-1v1h-1v-1h-1v-1h-1v-1h1v-1h1zM980 687h1v1h1v1h1v1h-1v1h-1v1h-1v-1h-1v-1h-1v-1h1v-1h1zM981 687h1v1h1v1h1v1h-1v1h-1v1h-1v-1h-1v-1h-1v-1h1v-1h1zM975 689h1v1h1v1h1v1h-1v1h-1v1h-1v-1h-1v-1h-1v-1h1v-1h1zM977 689h1v1h1v1h1v1h-1v1h-1v1h-1v-1h-1v-1h-1v-1h1v-1h1zM979 689h1v1h1v1h1v1h-1v1h-1v1h-1v-1h-1v-1h-1v-1h1v-1h1zM981 689h1v1h1v1h1v1h-1v1h-1v1h-1v-1h-1v-1h-1v-1h1v-1h1zM975 691h1v1h1v1h1v1h-1v1h-1v1h-1v-1h-1v-1h-1v-1h1v-1h1zM977 691h1v1h1v1h1v1h-1v1h-1v1h-1v-1h-1v-1h-1v-1h1v-1h1zM979 691h1v1h1v1h1v1h-1v1h-1v1h-1v-1h-1v-1h-1v-1h1v-1h1zM980 691h1v1h1v1h1v1h-1v1h-1v1h-1v-1h-1v-1h-1v-1h1v-1h1zM976 693h1v1h1v1h1v1h-1v1h-1v1h-1v-1h-1v-1h-1v-1h1v-1h1zM978 693h1v1h1v1h1v1h-1v1h-1v1h-1v-1h-1v-1h-1v-1h1v-1h1zM979 693h1v1h1v1h1v1h-1v1h-1v1h-1v-1h-1v-1h-1v-1h1v-1h1z"/>
<line x1="246.5" y1="905.7" x2="1711.5" y2="308.2" stroke="#f00" stroke-width="1"/>
<line x1="246.5" y1="356.1" x2="1711.5" y2="883.8" stroke="#00f" stroke-width="1"/>
<path d="M966 611.5H992M978.5 598V625" stroke="#000" stroke-width="1" fill="none"/>
<rect x="1474.5" y="114.5" width="224" height="126" fill="#fff" stroke="#000" stroke-width="1"/>
<path fill="#00f" d="M1531 145h1v1h1v1h1v1h-1v1h-1v1h-1v-1h-1v-1h-1v-1h1v-1h1z"/><path fill="#f00" d="M1531 204h1v1h1v1h1v1h-1v1h-1v1h-1v-1h-1v-1h-1v-1h1v-1h1z"/>
</g>
<circle cx="701.2" cy="893.2" r="5.3" fill="none" stroke="#000" stroke-width="1.15"/>
<circle cx="968.5" cy="893.2" r="5.3" fill="none" stroke="#000" stroke-width="1.15"/>
<circle cx="701.2" cy="948.2" r="5.3" fill="none" stroke="#000" stroke-width="1.15"/>
<circle cx="1028.4" cy="948.2" r="5.3" fill="none" stroke="#000" stroke-width="1.15"/>
<circle cx="1351.3" cy="948.2" r="5.3" fill="none" stroke="#000" stroke-width="1.15"/>
<circle cx="724" cy="1003.2" r="5.3" fill="none" stroke="#000" stroke-width="1.15"/>
<circle cx="1005.5" cy="1003.2" r="5.3" fill="none" stroke="#000" stroke-width="1.15"/>
<circle cx="724" cy="1058.2" r="5.3" fill="none" stroke="#000" stroke-width="1.15"/>
<circle cx="1051.2" cy="1058.2" r="5.3" fill="none" stroke="#000" stroke-width="1.15"/>
<circle cx="1374.5" cy="1058.2" r="5.3" fill="none" stroke="#000" stroke-width="1.15"/>
<circle cx="1165.6" cy="381.2" r="5.3" fill="none" stroke="#000" stroke-width="1.15"/>
<circle cx="1116" cy="1193.2" r="6.3" fill="none" stroke="#000" stroke-width="1.15"/>
<circle cx="140.3" cy="745.9" r="6.5" fill="none" stroke="#000" stroke-width="1.15"/>
<g opacity="0.999"><text transform="translate(32.89,69) scale(0.8946,1)" font-size="68.3">SG566 OSMOSIS, Rotation 3, dive 380 started 21-Jun-2013 05:56:46</text>
<text transform="translate(1582.59,169) scale(0.9140,1)" font-size="45">Dive</text>
<text transform="translate(1583.88,228) scale(0.9102,1)" font-size="45">Climb</text>
<text transform="translate(393.60,917) scale(0.9107,1)" font-size="45">Dive Turn Rate (</text>
<text transform="translate(710.40,917) scale(0.8950,1)" font-size="45">/s) = 1.60288</text>
<text transform="translate(976.70,917) scale(0.9065,1)" font-size="45">/s + Roll control (counts) * -0.000663164</text>
<text transform="translate(393.60,972) scale(0.9107,1)" font-size="45">Dive Turn Rate (</text>
<text transform="translate(710.40,972) scale(0.9017,1)" font-size="45">/s) = -0.0417646</text>
<text transform="translate(1036.50,972) scale(0.9021,1)" font-size="45">/s + Roll control (</text>
<text transform="translate(1359.50,972) scale(0.8949,1)" font-size="45">) * -0.0234561</text>
<text transform="translate(393.18,1027) scale(0.9120,1)" font-size="45">Climb Turn Rate (</text>
<text transform="translate(733.20,1027) scale(0.9015,1)" font-size="45">/s) = -1.83899</text>
<text transform="translate(1013.60,1027) scale(0.9057,1)" font-size="45">/s + Roll control (counts) * 0.00074984</text>
<text transform="translate(393.18,1082) scale(0.9120,1)" font-size="45">Climb Turn Rate (</text>
<text transform="translate(733.20,1082) scale(0.8880,1)" font-size="45">/s) = -0.0993561</text>
<text transform="translate(1059.50,1082) scale(0.9036,1)" font-size="45">/s + Roll control (</text>
<text transform="translate(1383.00,1082) scale(0.9046,1)" font-size="45">) * 0.0265219</text>
<text transform="translate(525.09,267) scale(0.9050,1)" font-size="45">C</text>
<text transform="translate(553.68,245.5) scale(0.9902,1)" font-size="33">dive</text>
<text transform="translate(555.08,285.5) scale(0.9782,1)" font-size="33">roll</text>
<text transform="translate(625.01,267) scale(0.8949,1)" font-size="45">= 2480</text>
<text transform="translate(818.09,267) scale(0.9050,1)" font-size="45">C</text>
<text transform="translate(846.38,245.5) scale(0.9928,1)" font-size="33">climb</text>
<text transform="translate(847.98,285.5) scale(0.9807,1)" font-size="33">roll</text>
<text transform="translate(933.09,267) scale(0.9045,1)" font-size="45">= 2320</text>
<text transform="translate(393.72,331) scale(0.9050,1)" font-size="45">Implied C</text>
<text transform="translate(565.08,309.5) scale(0.9902,1)" font-size="33">dive</text>
<text transform="translate(566.48,349.5) scale(0.9782,1)" font-size="33">roll</text>
<text transform="translate(636.09,331) scale(0.9037,1)" font-size="45">= 2417.02</text>
<text transform="translate(884.89,331) scale(0.9050,1)" font-size="45">C</text>
<text transform="translate(915.40,309.5) scale(0.9727,1)" font-size="33">climb</text>
<text transform="translate(916.98,349.5) scale(0.9807,1)" font-size="33">roll</text>
<text transform="translate(1000.79,331) scale(0.9073,1)" font-size="45">= 2452.5</text>
<text transform="translate(396.00,405) scale(0.9045,1)" font-size="45">Assumed roll control gain = 35.37 (counts/</text>
<text transform="translate(1185.70,405) scale(0.8853,1)" font-size="45">to stbd)</text>
<text transform="translate(814.18,1221) scale(0.9097,1)" font-size="55.2">Roll Control</text>
<text transform="translate(1092.35,1221) scale(0.6763,1)" font-size="55.2">(</text>
<text transform="translate(1128.40,1221) scale(0.6119,1)" font-size="55.2">)</text>
<text transform="translate(169,992.02) rotate(-90) scale(0.9561,1)" font-size="55.2">Turn rate</text>
<text transform="translate(169,770.50) rotate(-90) scale(0.6957,1)" font-size="55.2">(</text>
<text transform="translate(169,734.80) rotate(-90) scale(0.8857,1)" font-size="55.2">/s</text>
<text transform="translate(169,693.90) rotate(-90) scale(0.6312,1)" font-size="55.2">)</text>
<text transform="translate(169,663.33) rotate(-90) scale(0.6699,1)" font-size="55.2">(</text>
<text transform="translate(169,645.18) rotate(-90) scale(0.9050,1)" font-size="55.2">starboard positive</text>
<text transform="translate(169,249.10) rotate(-90) scale(0.6634,1)" font-size="55.2">)</text>
<text transform="translate(288.83,1164) scale(0.9000,1)" font-size="29.5">-50</text>
<text transform="translate(421.83,1164) scale(0.9000,1)" font-size="29.5">-40</text>
<text transform="translate(554.83,1164) scale(0.9000,1)" font-size="29.5">-30</text>
<text transform="translate(688.83,1164) scale(0.9000,1)" font-size="29.5">-20</text>
<text transform="translate(821.83,1164) scale(0.9000,1)" font-size="29.5">-10</text>
<text transform="translate(970.43,1164) scale(0.9000,1)" font-size="29.5">0</text>
<text transform="translate(1095.64,1164) scale(0.9000,1)" font-size="29.5">10</text>
<text transform="translate(1228.84,1164) scale(0.9000,1)" font-size="29.5">20</text>
<text transform="translate(1363.05,1164) scale(0.9000,1)" font-size="29.5">30</text>
<text transform="translate(1496.26,1164) scale(0.9000,1)" font-size="29.5">40</text>
<text transform="translate(1629.05,1164) scale(0.9000,1)" font-size="29.5">50</text>
<text transform="translate(200.97,113) scale(0.9000,1)" font-size="29.5">2.5</text>
<text transform="translate(223.11,215) scale(0.9000,1)" font-size="29.5">2</text>
<text transform="translate(200.97,317) scale(0.9000,1)" font-size="29.5">1.5</text>
<text transform="translate(223.11,419) scale(0.9000,1)" font-size="29.5">1</text>
<text transform="translate(200.97,522) scale(0.9000,1)" font-size="29.5">0.5</text>
<text transform="translate(222.70,624) scale(0.9000,1)" font-size="29.5">0</text>
<text transform="translate(192.13,726) scale(0.9000,1)" font-size="29.5">-0.5</text>
<text transform="translate(214.27,829) scale(0.9000,1)" font-size="29.5">-1</text>
<text transform="translate(192.13,931) scale(0.9000,1)" font-size="29.5">-1.5</text>
<text transform="translate(214.27,1033) scale(0.9000,1)" font-size="29.5">-2</text>
<text transform="translate(192.13,1136) scale(0.9000,1)" font-size="29.5">-2.5</text>
</g></svg>
</body></html>
